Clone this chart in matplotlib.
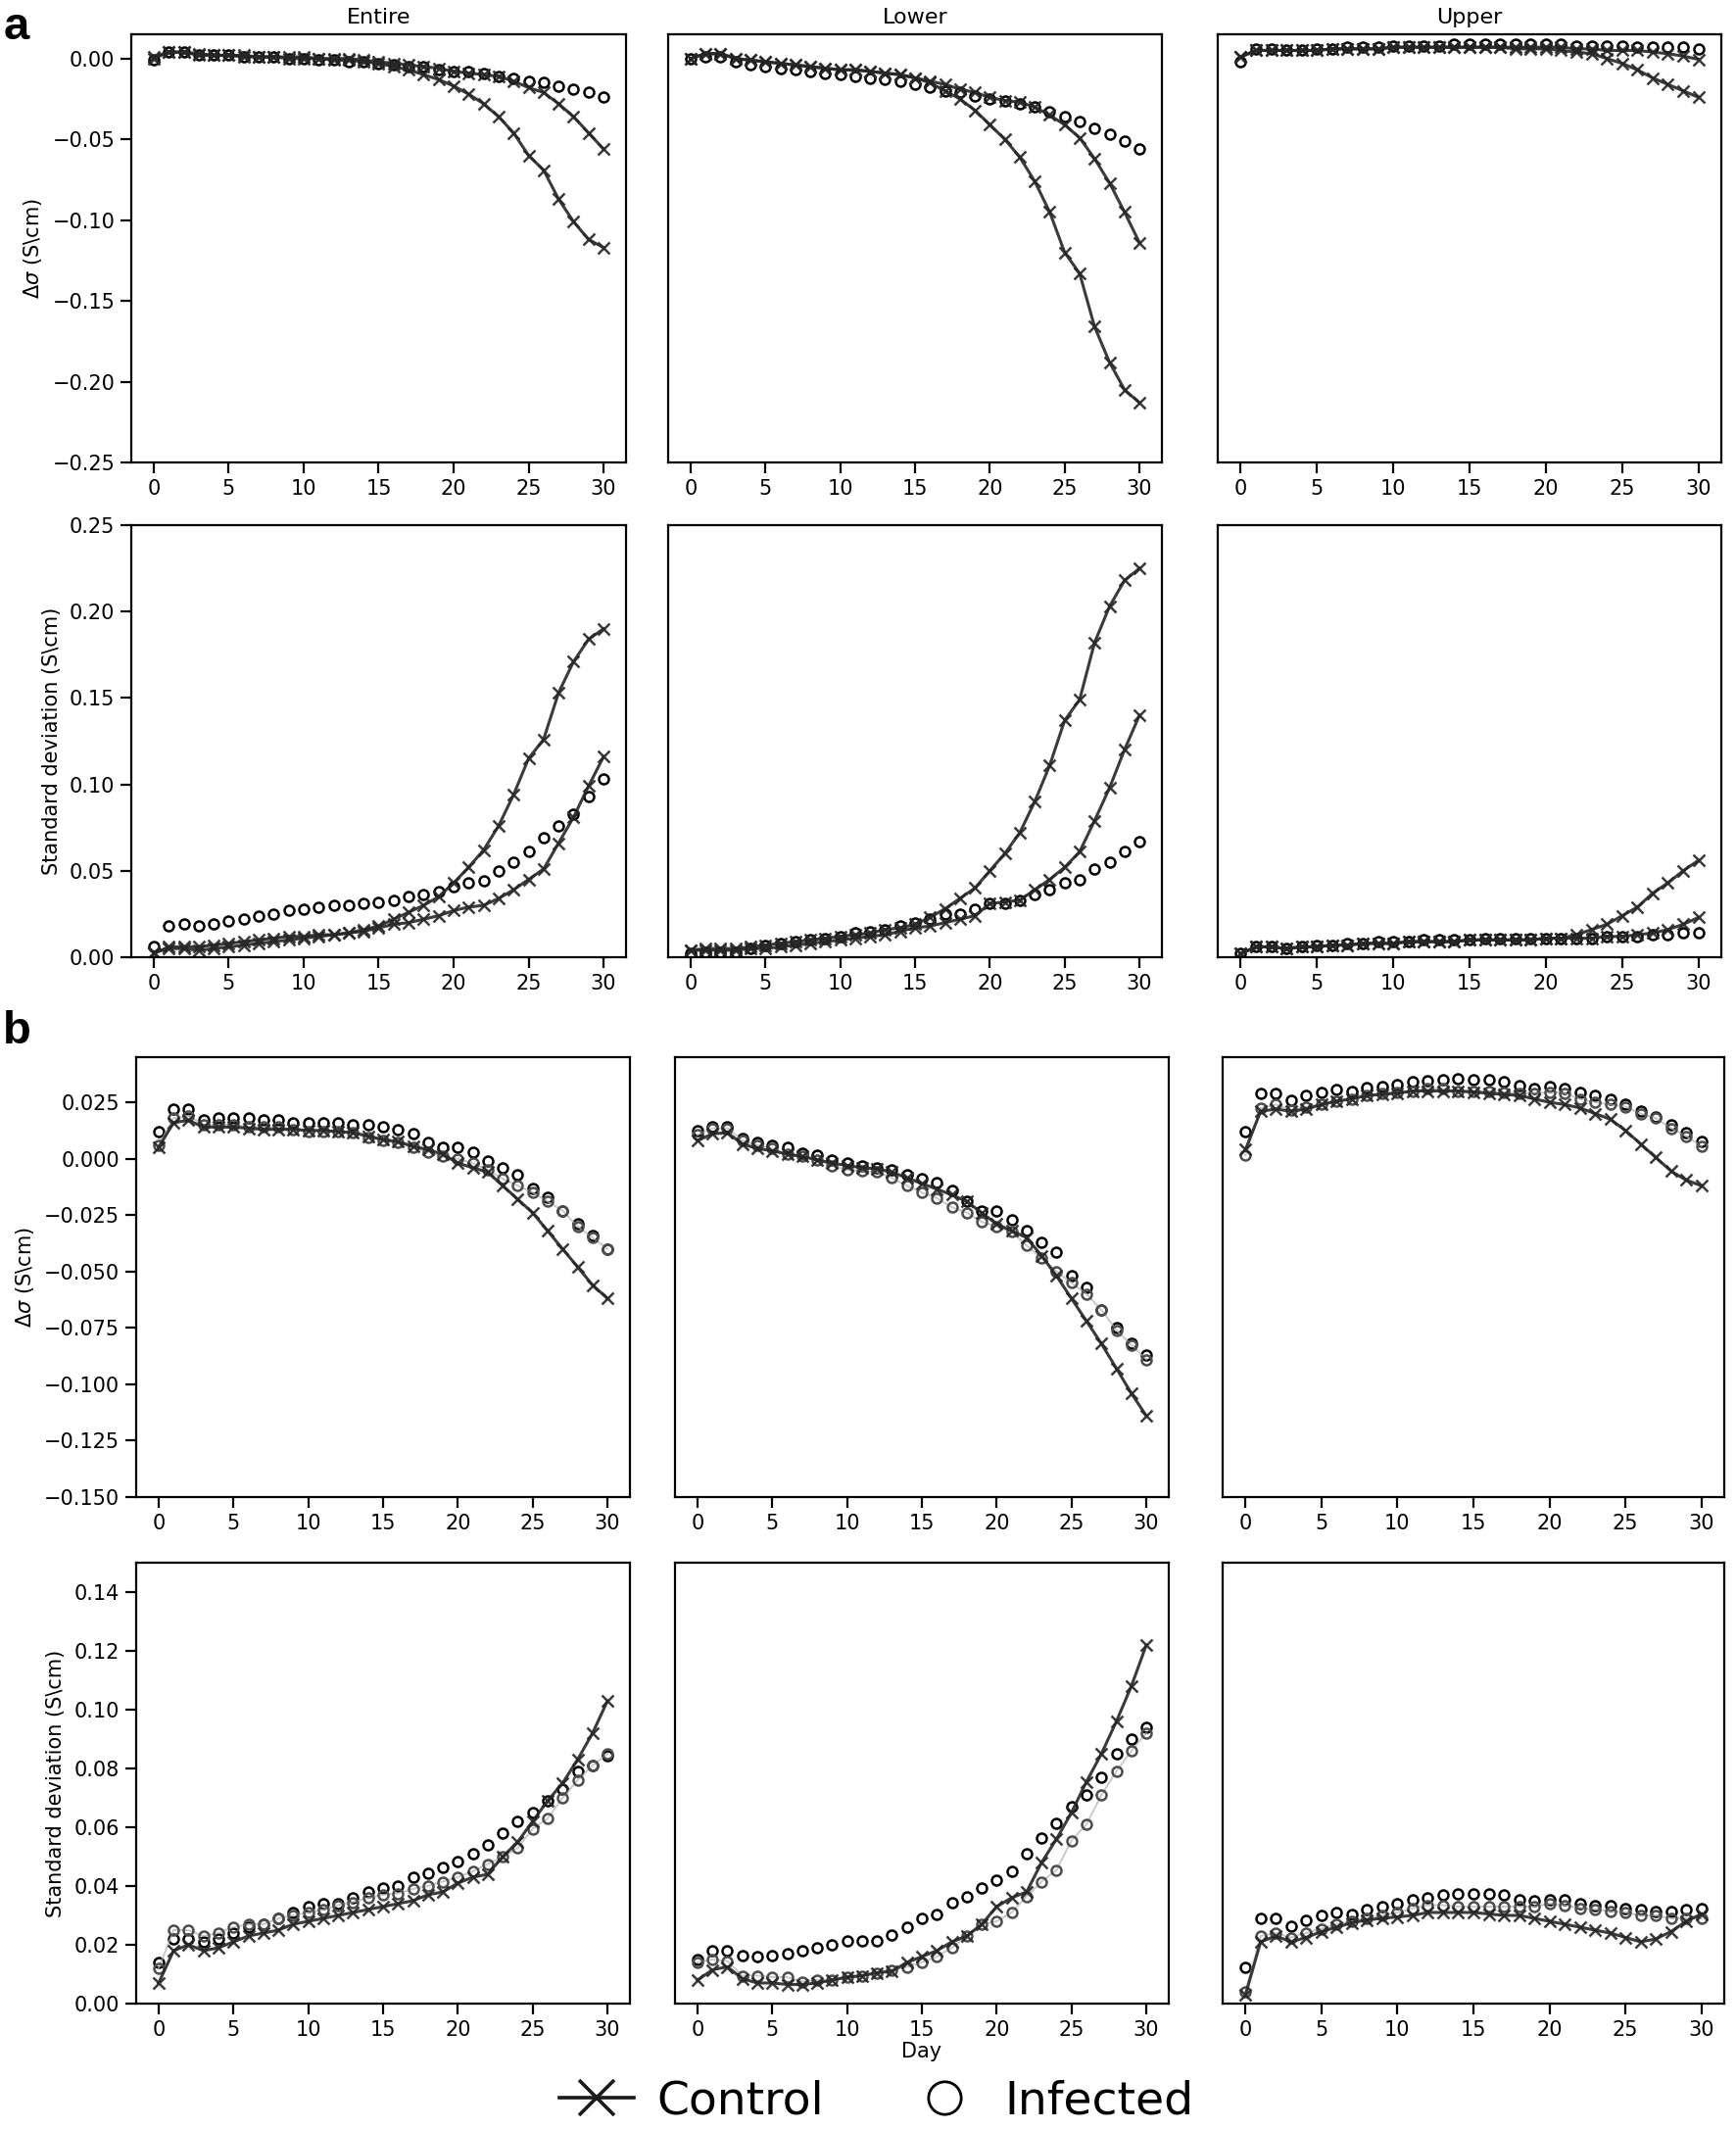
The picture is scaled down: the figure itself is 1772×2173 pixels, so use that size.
import numpy as np
import matplotlib
matplotlib.use("Agg")
import matplotlib.pyplot as plt
from matplotlib.lines import Line2D

matplotlib.rcParams['font.family'] = 'DejaVu Sans'
matplotlib.rcParams['font.size'] = 7.5
matplotlib.rcParams['mathtext.fontset'] = 'dejavusans'

days = list(range(31))
regions = ["Entire", "Lower", "Upper"]

# ---- panel a : delta sigma ----
a_dsig_entire_ctrl1 = [0.000, 0.004, 0.004, 0.002, 0.002, 0.002, 0.001, 0.001, 0.001, 0.000, 0.000, 0.000, -0.001, -0.001, -0.002, -0.003,
                       -0.005, -0.007, -0.010, -0.013, -0.017, -0.022, -0.028, -0.036, -0.046, -0.060, -0.069, -0.087, -0.101, -0.112, -0.117]
a_dsig_entire_ctrl2 = [0.001, 0.004, 0.004, 0.003, 0.002, 0.002, 0.002, 0.001, 0.001, 0.001, 0.001, 0.000, 0.000, 0.000, -0.001, -0.002,
                       -0.003, -0.004, -0.005, -0.006, -0.008, -0.009, -0.010, -0.011, -0.014, -0.018, -0.021, -0.028, -0.036, -0.046, -0.056]
a_dsig_entire_inf = [-0.001, 0.004, 0.004, 0.002, 0.002, 0.002, 0.001, 0.001, 0.001, 0.000, 0.000, -0.001, -0.001, -0.002, -0.002, -0.003,
                     -0.004, -0.005, -0.005, -0.007, -0.008, -0.008, -0.009, -0.011, -0.012, -0.014, -0.015, -0.017, -0.019, -0.021, -0.024]

a_dsig_lower_ctrl1 = [0.000, 0.003, 0.003, 0.000, -0.001, -0.002, -0.003, -0.004, -0.005, -0.006, -0.007, -0.007, -0.008, -0.009, -0.010, -0.012,
                      -0.015, -0.020, -0.025, -0.032, -0.041, -0.050, -0.061, -0.076, -0.095, -0.120, -0.133, -0.166, -0.188, -0.205, -0.213]
a_dsig_lower_ctrl2 = [0.000, 0.003, 0.003, 0.000, -0.001, -0.002, -0.003, -0.004, -0.005, -0.006, -0.007, -0.007, -0.008, -0.009, -0.010, -0.012,
                      -0.014, -0.016, -0.019, -0.021, -0.024, -0.026, -0.027, -0.030, -0.035, -0.041, -0.049, -0.062, -0.077, -0.095, -0.114]
a_dsig_lower_inf = [0.000, 0.001, 0.001, -0.002, -0.004, -0.005, -0.006, -0.007, -0.008, -0.009, -0.010, -0.011, -0.012, -0.013, -0.014, -0.016,
                    -0.018, -0.020, -0.021, -0.023, -0.025, -0.026, -0.028, -0.030, -0.033, -0.036, -0.039, -0.043, -0.047, -0.051, -0.056]

a_dsig_upper_ctrl1 = [0.001, 0.005, 0.005, 0.005, 0.005, 0.005, 0.006, 0.006, 0.006, 0.006, 0.007, 0.007, 0.007, 0.007, 0.007, 0.007,
                      0.007, 0.007, 0.007, 0.007, 0.007, 0.007, 0.006, 0.006, 0.005, 0.005, 0.005, 0.004, 0.003, 0.0015, -0.0005]
a_dsig_upper_ctrl2 = [0.001, 0.005, 0.005, 0.005, 0.005, 0.005, 0.006, 0.006, 0.006, 0.006, 0.007, 0.007, 0.007, 0.007, 0.007, 0.007,
                      0.007, 0.007, 0.006, 0.006, 0.006, 0.005, 0.004, 0.003, 0.000, -0.003, -0.007, -0.012, -0.016, -0.020, -0.024]
a_dsig_upper_inf = [-0.002, 0.006, 0.006, 0.005, 0.005, 0.006, 0.006, 0.007, 0.007, 0.007, 0.008, 0.008, 0.008, 0.008, 0.009, 0.009,
                    0.009, 0.009, 0.009, 0.009, 0.009, 0.009, 0.008, 0.008, 0.008, 0.008, 0.007, 0.007, 0.007, 0.007, 0.006]

# ---- panel a : standard deviation ----
a_std_entire_ctrl1 = [0.002, 0.006, 0.006, 0.006, 0.007, 0.008, 0.009, 0.010, 0.011, 0.012, 0.012, 0.013, 0.013, 0.014, 0.016, 0.018,
                      0.022, 0.026, 0.030, 0.035, 0.043, 0.052, 0.062, 0.076, 0.094, 0.115, 0.126, 0.153, 0.171, 0.184, 0.190]
a_std_entire_ctrl2 = [0.003, 0.005, 0.005, 0.004, 0.005, 0.006, 0.007, 0.008, 0.009, 0.010, 0.011, 0.012, 0.013, 0.014, 0.015, 0.017,
                      0.019, 0.020, 0.022, 0.024, 0.027, 0.029, 0.030, 0.034, 0.039, 0.045, 0.051, 0.066, 0.081, 0.099, 0.116]
a_std_entire_inf = [0.006, 0.018, 0.019, 0.018, 0.019, 0.021, 0.022, 0.024, 0.025, 0.027, 0.028, 0.029, 0.030, 0.030, 0.031, 0.032,
                    0.033, 0.035, 0.036, 0.038, 0.041, 0.043, 0.044, 0.050, 0.055, 0.061, 0.069, 0.076, 0.083, 0.093, 0.103]

a_std_lower_ctrl1 = [0.004, 0.005, 0.005, 0.005, 0.006, 0.007, 0.008, 0.009, 0.010, 0.011, 0.012, 0.013, 0.014, 0.016, 0.017, 0.019,
                     0.023, 0.028, 0.034, 0.040, 0.050, 0.060, 0.072, 0.090, 0.111, 0.137, 0.149, 0.182, 0.203, 0.218, 0.225]
a_std_lower_ctrl2 = [0.004, 0.004, 0.004, 0.004, 0.005, 0.005, 0.006, 0.007, 0.008, 0.009, 0.010, 0.011, 0.012, 0.013, 0.015, 0.017,
                     0.018, 0.020, 0.022, 0.024, 0.031, 0.032, 0.033, 0.039, 0.045, 0.052, 0.061, 0.079, 0.098, 0.120, 0.140]
a_std_lower_inf = [0.002, 0.003, 0.003, 0.003, 0.005, 0.007, 0.008, 0.009, 0.010, 0.011, 0.012, 0.014, 0.015, 0.016, 0.018, 0.020,
                   0.022, 0.025, 0.025, 0.028, 0.031, 0.031, 0.033, 0.036, 0.039, 0.043, 0.045, 0.051, 0.055, 0.061, 0.067]

a_std_upper_ctrl1 = [0.002, 0.006, 0.006, 0.005, 0.006, 0.006, 0.007, 0.007, 0.008, 0.008, 0.008, 0.009, 0.009, 0.009, 0.009, 0.010,
                     0.010, 0.010, 0.010, 0.010, 0.011, 0.011, 0.013, 0.016, 0.019, 0.024, 0.029, 0.037, 0.043, 0.050, 0.056]
a_std_upper_ctrl2 = [0.002, 0.006, 0.006, 0.005, 0.006, 0.006, 0.007, 0.007, 0.008, 0.008, 0.008, 0.009, 0.009, 0.009, 0.009, 0.010,
                     0.010, 0.010, 0.010, 0.010, 0.011, 0.011, 0.011, 0.011, 0.012, 0.012, 0.013, 0.014, 0.016, 0.019, 0.023]
a_std_upper_inf = [0.002, 0.006, 0.006, 0.005, 0.006, 0.007, 0.007, 0.008, 0.008, 0.009, 0.009, 0.009, 0.010, 0.010, 0.010, 0.010,
                   0.011, 0.011, 0.011, 0.011, 0.011, 0.011, 0.011, 0.011, 0.012, 0.012, 0.012, 0.013, 0.013, 0.014, 0.014]

# ---- panel b : delta sigma ----
b_dsig_entire_ctrl = [0.005, 0.016, 0.017, 0.014, 0.014, 0.014, 0.0135, 0.013, 0.013, 0.013, 0.0125, 0.0125, 0.012, 0.0115, 0.010, 0.0085,
                      0.0075, 0.0055, 0.004, 0.002, -0.002, -0.004, -0.006, -0.012, -0.018, -0.024, -0.032, -0.040, -0.048, -0.056, -0.062]
b_dsig_entire_inf1 = [0.012, 0.022, 0.022, 0.017, 0.018, 0.018, 0.018, 0.017, 0.017, 0.016, 0.016, 0.016, 0.016, 0.015, 0.015, 0.014,
                      0.013, 0.011, 0.007, 0.005, 0.005, 0.003, -0.001, -0.004, -0.007, -0.013, -0.017, -0.023, -0.029, -0.034, -0.040]
b_dsig_entire_inf2 = [0.006, 0.018, 0.019, 0.015, 0.015, 0.015, 0.014, 0.014, 0.014, 0.013, 0.012, 0.012, 0.012, 0.0115, 0.0095, 0.008,
                      0.007, 0.005, 0.003, 0.001, 0.000, -0.002, -0.005, -0.009, -0.012, -0.015, -0.019, -0.023, -0.030, -0.035, -0.040]

b_dsig_lower_ctrl = [0.008, 0.011, 0.0115, 0.0065, 0.0045, 0.0035, 0.002, 0.001, -0.0005, -0.002, -0.003, -0.004, -0.0045, -0.006, -0.0085, -0.011,
                     -0.0135, -0.016, -0.019, -0.024, -0.029, -0.032, -0.035, -0.043, -0.052, -0.062, -0.072, -0.082, -0.093, -0.104, -0.114]
b_dsig_lower_inf1 = [0.0125, 0.014, 0.014, 0.009, 0.007, 0.006, 0.005, 0.0025, 0.0015, -0.0005, -0.002, -0.003, -0.004, -0.005, -0.007, -0.009,
                     -0.0105, -0.014, -0.019, -0.023, -0.023, -0.027, -0.032, -0.037, -0.0415, -0.052, -0.057, -0.067, -0.075, -0.082, -0.087]
b_dsig_lower_inf2 = [0.0105, 0.0135, 0.0135, 0.008, 0.006, 0.0045, 0.002, 0.001, -0.0005, -0.003, -0.005, -0.0055, -0.006, -0.0085, -0.012, -0.015,
                     -0.0175, -0.0215, -0.024, -0.028, -0.030, -0.0325, -0.0385, -0.044, -0.050, -0.055, -0.060, -0.067, -0.076, -0.0825, -0.089]

b_dsig_upper_ctrl = [0.004, 0.021, 0.022, 0.021, 0.022, 0.024, 0.0255, 0.0265, 0.028, 0.0285, 0.029, 0.030, 0.030, 0.030, 0.030, 0.0295,
                     0.029, 0.0285, 0.028, 0.0265, 0.025, 0.024, 0.0225, 0.020, 0.0175, 0.0125, 0.0065, 0.0005, -0.0055, -0.0095, -0.012]
b_dsig_upper_inf1 = [0.012, 0.029, 0.029, 0.026, 0.028, 0.0295, 0.0305, 0.030, 0.0315, 0.032, 0.033, 0.034, 0.0345, 0.035, 0.0355, 0.035,
                     0.035, 0.034, 0.0325, 0.031, 0.032, 0.031, 0.0295, 0.028, 0.0265, 0.024, 0.021, 0.0185, 0.015, 0.0115, 0.0075]
b_dsig_upper_inf2 = [0.0015, 0.0225, 0.024, 0.0215, 0.023, 0.024, 0.0255, 0.0265, 0.028, 0.029, 0.0295, 0.030, 0.031, 0.031, 0.030, 0.030,
                     0.030, 0.0295, 0.029, 0.029, 0.0295, 0.029, 0.0265, 0.025, 0.024, 0.023, 0.020, 0.018, 0.0135, 0.010, 0.0055]

# ---- panel b : standard deviation ----
b_std_entire_ctrl = [0.007, 0.018, 0.020, 0.018, 0.019, 0.021, 0.023, 0.024, 0.025, 0.027, 0.028, 0.029, 0.030, 0.031, 0.032, 0.033,
                     0.034, 0.035, 0.037, 0.038, 0.041, 0.043, 0.044, 0.050, 0.055, 0.062, 0.069, 0.075, 0.083, 0.092, 0.103]
b_std_entire_inf1 = [0.014, 0.022, 0.022, 0.021, 0.022, 0.024, 0.026, 0.027, 0.029, 0.031, 0.033, 0.034, 0.034, 0.036, 0.038, 0.0395,
                     0.040, 0.043, 0.0445, 0.0465, 0.0485, 0.051, 0.054, 0.058, 0.062, 0.065, 0.069, 0.073, 0.079, 0.081, 0.0845]
b_std_entire_inf2 = [0.012, 0.025, 0.025, 0.023, 0.024, 0.026, 0.027, 0.027, 0.029, 0.030, 0.031, 0.032, 0.0335, 0.0345, 0.036, 0.037,
                     0.0375, 0.039, 0.040, 0.0415, 0.043, 0.045, 0.0475, 0.050, 0.053, 0.0595, 0.063, 0.070, 0.076, 0.081, 0.085]

b_std_lower_ctrl = [0.008, 0.0115, 0.0125, 0.0085, 0.007, 0.007, 0.0065, 0.0065, 0.007, 0.008, 0.009, 0.0095, 0.0105, 0.011, 0.014, 0.016,
                    0.018, 0.021, 0.023, 0.027, 0.033, 0.036, 0.038, 0.048, 0.056, 0.065, 0.0755, 0.085, 0.096, 0.108, 0.122]
b_std_lower_inf1 = [0.015, 0.018, 0.018, 0.0165, 0.016, 0.0165, 0.017, 0.018, 0.019, 0.020, 0.0215, 0.0215, 0.0215, 0.0235, 0.026, 0.029,
                    0.0305, 0.0345, 0.0365, 0.0395, 0.042, 0.045, 0.051, 0.0565, 0.0615, 0.067, 0.071, 0.077, 0.085, 0.090, 0.094]
b_std_lower_inf2 = [0.014, 0.015, 0.0145, 0.0095, 0.0095, 0.009, 0.009, 0.0075, 0.008, 0.008, 0.009, 0.0095, 0.0105, 0.0115, 0.0125, 0.014,
                    0.016, 0.019, 0.023, 0.027, 0.028, 0.031, 0.0365, 0.0415, 0.0455, 0.0555, 0.061, 0.071, 0.079, 0.086, 0.092]

b_std_upper_ctrl = [0.003, 0.021, 0.023, 0.021, 0.0225, 0.0245, 0.026, 0.0275, 0.0285, 0.029, 0.0295, 0.030, 0.031, 0.031, 0.031, 0.031,
                    0.0305, 0.030, 0.030, 0.029, 0.028, 0.027, 0.026, 0.025, 0.024, 0.0225, 0.021, 0.022, 0.0245, 0.028, 0.0305]
b_std_upper_inf1 = [0.0125, 0.029, 0.029, 0.0265, 0.0285, 0.030, 0.031, 0.0305, 0.032, 0.033, 0.034, 0.0355, 0.036, 0.037, 0.0375, 0.0375,
                    0.0375, 0.037, 0.0355, 0.035, 0.0355, 0.0355, 0.034, 0.0335, 0.0335, 0.0325, 0.032, 0.0315, 0.0315, 0.032, 0.0325]
b_std_upper_inf2 = [0.004, 0.023, 0.024, 0.0225, 0.024, 0.0255, 0.027, 0.028, 0.029, 0.030, 0.031, 0.0325, 0.0335, 0.0335, 0.033, 0.033,
                    0.033, 0.033, 0.033, 0.033, 0.034, 0.0335, 0.0325, 0.032, 0.0315, 0.031, 0.030, 0.030, 0.029, 0.029, 0.029]

#%% layout (pixels of the 1772 x 2173 image)

W, H = 1772, 2173
fig = plt.figure(figsize=(W / 200, H / 200), dpi=200)


def box(l, r, t, b):
    return [l / W, 1 - b / H, (r - l) / W, (b - t) / H]


def ticklabel(v, fmt):
    if abs(v) < 1e-9:
        v = 0.0
    return (fmt % v).replace('-', '\u2212')


cols_a = [(134, 639), (682, 1186), (1243, 1757)]
cols_b = [(139, 643), (689, 1193), (1248, 1760)]
rows = [(35, 472), (536, 977), (1079, 1528), (1595, 2045)]

panels = [
    # row, controls, infected, ylim, yticks, ylabel, tick format
    (0, [[a_dsig_entire_ctrl1, a_dsig_entire_ctrl2], [a_dsig_lower_ctrl1, a_dsig_lower_ctrl2], [a_dsig_upper_ctrl1, a_dsig_upper_ctrl2]],
     [[a_dsig_entire_inf], [a_dsig_lower_inf], [a_dsig_upper_inf]],
     (-0.25, 0.015), np.arange(-0.25, 0.001, 0.05), "$\\Delta\\sigma$ (S\\cm)", "%.2f"),
    (1, [[a_std_entire_ctrl1, a_std_entire_ctrl2], [a_std_lower_ctrl1, a_std_lower_ctrl2], [a_std_upper_ctrl1, a_std_upper_ctrl2]],
     [[a_std_entire_inf], [a_std_lower_inf], [a_std_upper_inf]],
     (0, 0.25), np.arange(0, 0.251, 0.05), "Standard deviation (S\\cm)", "%.2f"),
    (2, [[b_dsig_entire_ctrl], [b_dsig_lower_ctrl], [b_dsig_upper_ctrl]],
     [[b_dsig_entire_inf1, b_dsig_entire_inf2], [b_dsig_lower_inf1, b_dsig_lower_inf2], [b_dsig_upper_inf1, b_dsig_upper_inf2]],
     (-0.15, 0.045), np.arange(-0.15, 0.026, 0.025), "$\\Delta\\sigma$ (S\\cm)", "%.3f"),
    (3, [[b_std_entire_ctrl], [b_std_lower_ctrl], [b_std_upper_ctrl]],
     [[b_std_entire_inf1, b_std_entire_inf2], [b_std_lower_inf1, b_std_lower_inf2], [b_std_upper_inf1, b_std_upper_inf2]],
     (0, 0.15), np.arange(0, 0.141, 0.02), "Standard deviation (S\\cm)", "%.2f"),
]

for r, ctrls, infs, ylim, yticks, ylabel, fmt in panels:
    cols = cols_a if r < 2 else cols_b
    for c in range(3):
        ax = fig.add_axes(box(cols[c][0], cols[c][1], rows[r][0], rows[r][1]))
        for k, inf in enumerate(infs[c]):
            if r >= 2 and k == 1:
                ax.plot(days, inf, '-', color='0.7', lw=0.7, alpha=0.7)
            ax.plot(days, inf, 'o', ls='none', mfc='none',
                    mec='black' if k == 0 else '0.3', ms=3.6, mew=0.9)
        for ctrl in ctrls[c]:
            ax.plot(days, ctrl, '-x', color='0.15', lw=1.1, ms=4.0, mew=0.9, alpha=0.9)
        ax.set_xlim(-1.5, 31.5)
        ax.set_xticks([0, 5, 10, 15, 20, 25, 30])
        ax.set_ylim(*ylim)
        ax.set_yticks(yticks)
        ax.tick_params(length=4, width=0.8, pad=2)
        if c == 0:
            ax.set_yticklabels([ticklabel(v, fmt) for v in yticks])
            ax.set_ylabel(ylabel, labelpad=3)
        else:
            ax.tick_params(axis='y', left=False, labelleft=False)
        if r == 0:
            ax.set_title(regions[c], pad=4, fontsize=8)
        if r == 3 and c == 1:
            ax.set_xlabel("Day", labelpad=1)

fig.text(17 / W, 1 - 28 / H, "a", fontsize=17, fontweight='bold',
         family='Liberation Sans', ha='center', va='center')
fig.text(17 / W, 1 - 1053 / H, "b", fontsize=17, fontweight='bold',
         family='Liberation Sans', ha='center', va='center')

handles = [Line2D([], [], color='0.1', marker='x', ms=13, mew=1.3, lw=1.3),
           Line2D([], [], ls='none', marker='o', mfc='none', mec='black', ms=12, mew=1.0)]
fig.legend(handles, ["Control", "Infected"], loc='center', ncol=2,
           bbox_to_anchor=(0.505, 1 - 2145 / H), frameon=False, fontsize=17,
           handlelength=1.6, handletextpad=0.5, columnspacing=1.8)

fig.savefig("out.png", dpi=200)
